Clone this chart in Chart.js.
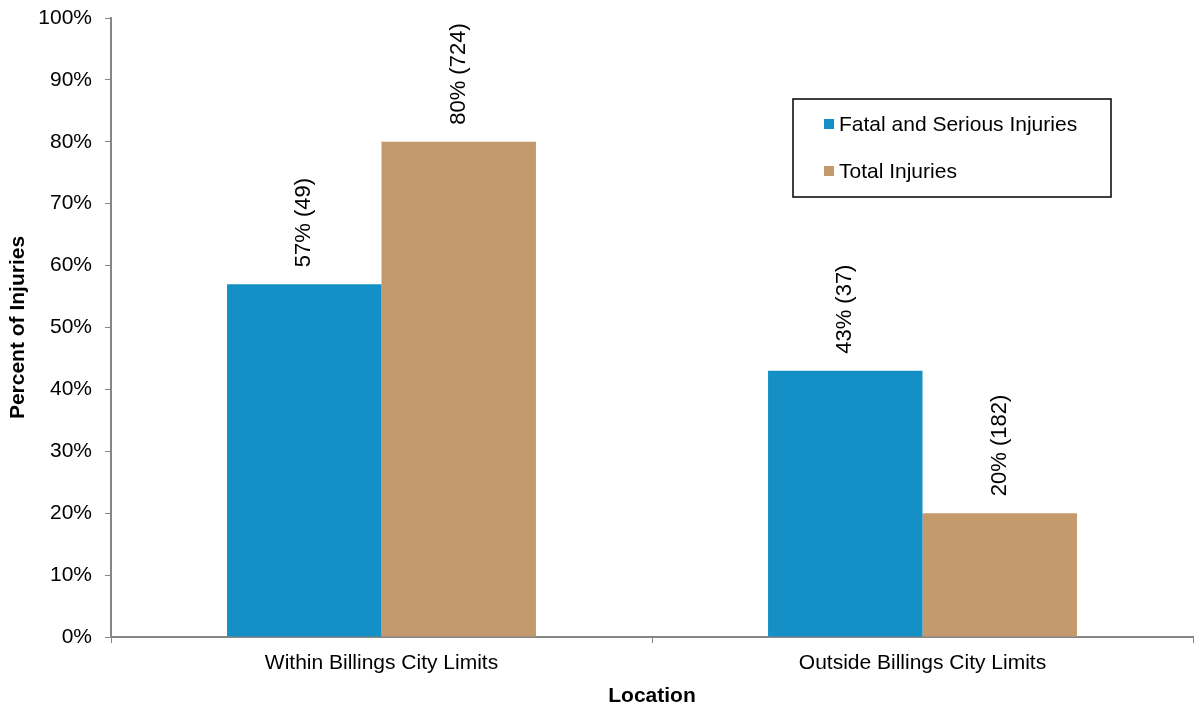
<!DOCTYPE html>
<html>
<head>
<meta charset="utf-8">
<script src="https://cdn.jsdelivr.net/npm/chart.js@4/dist/chart.umd.min.js"></script>
<style>
  html, body { margin: 0; padding: 0; background: #fff; }
  #wrap { width: 1194px; height: 706px; }
</style>
</head>
<body>
<div id="wrap"><canvas id="myChart" width="1194" height="706"></canvas></div>
<script>
var categories = ['Within Billings City Limits', 'Outside Billings City Limits'];
var seriesNames = ['Fatal and Serious Injuries', 'Total Injuries'];
var fatalPct = [57, 43];
var fatalCount = [49, 37];
var totalPct = [80, 20];
var totalCount = [724, 182];
var yTicks = [0, 10, 20, 30, 40, 50, 60, 70, 80, 90, 100];

var colors = ['#1490C6', '#C4996B'];
var fontFamily = '"Liberation Sans", Arial, sans-serif';

// value labels, rotated, sitting just above each bar
var barLabels = {
    id: 'barLabels',
    afterDatasetsDraw: function (chart) {
        var ctx = chart.ctx;
        chart.data.datasets.forEach(function (ds, i) {
            var meta = chart.getDatasetMeta(i);
            meta.data.forEach(function (bar, j) {
                ctx.save();
                ctx.translate(bar.x, bar.y - 17);
                ctx.rotate(-Math.PI / 2);
                ctx.font = '22px ' + fontFamily;
                ctx.fillStyle = '#000';
                ctx.textAlign = 'left';
                ctx.textBaseline = 'middle';
                ctx.fillText(ds.data[j] + '% (' + ds.counts[j] + ')', 0, 0);
                ctx.restore();
            });
        });
    }
};

// boxed legend inside the plot area
var boxLegend = {
    id: 'boxLegend',
    afterDraw: function (chart) {
        var ctx = chart.ctx;
        var x = 793, y = 99, w = 318, h = 98;
        ctx.save();
        ctx.strokeStyle = '#000';
        ctx.lineWidth = 1.5;
        ctx.strokeRect(x, y, w, h);
        ctx.font = '21px ' + fontFamily;
        ctx.textBaseline = 'middle';
        chart.data.datasets.forEach(function (ds, i) {
            var cy = y + 25 + i * 47;
            ctx.fillStyle = ds.backgroundColor;
            ctx.fillRect(x + 31, cy - 5, 10, 10);
            ctx.fillStyle = '#000';
            ctx.fillText(ds.label, x + 46, cy + 1);
        });
        ctx.restore();
    }
};

function createChart() {
    var ctx = document.getElementById('myChart').getContext('2d');
    new Chart(ctx, {
        type: 'bar',
        data: {
            labels: categories,
            datasets: [
                { label: seriesNames[0], data: fatalPct, counts: fatalCount, backgroundColor: colors[0] },
                { label: seriesNames[1], data: totalPct, counts: totalCount, backgroundColor: colors[1] }
            ]
        },
        options: {
            responsive: false,
            animation: false,
            devicePixelRatio: 1,
            layout: { padding: { top: 18, right: 1, left: 0, bottom: 0 } },
            datasets: {
                bar: { categoryPercentage: 0.571, barPercentage: 1.0 }
            },
            plugins: {
                legend: { display: false },
                tooltip: { enabled: false }
            },
            scales: {
                x: {
                    grid: { drawOnChartArea: false, drawTicks: true, tickLength: 6, color: '#868686', offset: true },
                    border: { color: '#868686', width: 2 },
                    ticks: { color: '#000', font: { family: fontFamily, size: 21 }, padding: 8 },
                    title: { display: true, text: 'Location', color: '#000', font: { family: fontFamily, size: 21, weight: 'bold' }, padding: { top: 0, bottom: -3 } },
                    afterFit: function (scale) { scale.height = 69; }
                },
                y: {
                    min: 0,
                    max: 100,
                    afterBuildTicks: function (scale) {
                        scale.ticks = yTicks.map(function (v) { return { value: v }; });
                    },
                    grid: { drawOnChartArea: false, drawTicks: true, tickLength: 6, color: '#868686' },
                    border: { color: '#868686', width: 2 },
                    ticks: {
                        color: '#000',
                        font: { family: fontFamily, size: 21 },
                        padding: 13,
                        callback: function (v) { return v + '%'; }
                    },
                    title: { display: true, text: 'Percent of Injuries', color: '#000', font: { family: fontFamily, size: 21, weight: 'bold' }, padding: { top: 6, bottom: 0 } },
                    afterFit: function (scale) {
                        scale.width = 111;
                        scale.paddingTop = 0;
                        scale.paddingBottom = 0;
                    }
                }
            }
        },
        plugins: [barLabels, boxLegend]
    });
}

createChart();
</script>
</body>
</html>
